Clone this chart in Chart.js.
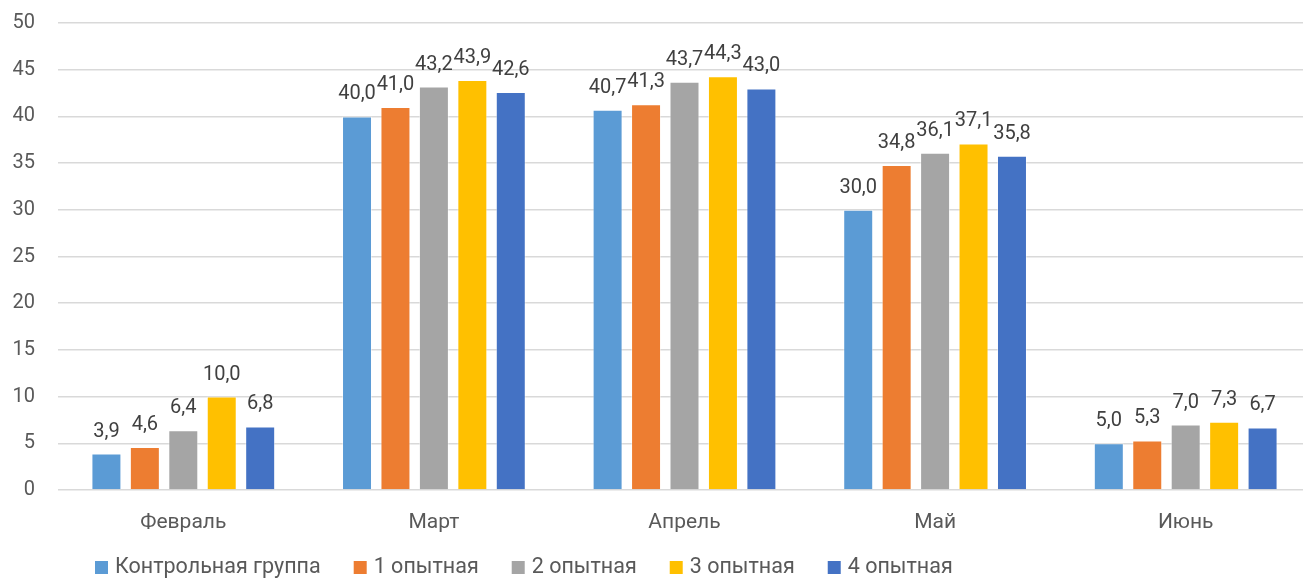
<!DOCTYPE html>
<html lang="ru">
<head>
<meta charset="utf-8">
<title>Показатели по месяцам</title>
<script src="https://cdn.jsdelivr.net/npm/chart.js@4.4.1/dist/chart.umd.min.js"></script>
<style>
  html, body { margin: 0; padding: 0; background: #ffffff; overflow: hidden; }
  #wrap { position: relative; width: 1311px; height: 579px; }
</style>
</head>
<body>
<div id="wrap"><canvas id="chart"></canvas></div>
<script>
// Months on the category axis
const months = ['Февраль', 'Март', 'Апрель', 'Май', 'Июнь'];

// Group names and their values per month
const seriesNames = ['Контрольная группа', '1 опытная', '2 опытная', '3 опытная', '4 опытная'];
const control = [3.9, 40.0, 40.7, 30.0, 5.0];
const group1 = [4.6, 41.0, 41.3, 34.8, 5.3];
const group2 = [6.4, 43.2, 43.7, 36.1, 7.0];
const group3 = [10.0, 43.9, 44.3, 37.1, 7.3];
const group4 = [6.8, 42.6, 43.0, 35.8, 6.7];

// Value axis ticks
const yTicks = [0, 5, 10, 15, 20, 25, 30, 35, 40, 45, 50];

const seriesValues = [control, group1, group2, group3, group4];
const seriesColors = ['#5B9BD5', '#ED7D31', '#A5A5A5', '#FFC000', '#4472C4'];

const FONT = 'Roboto, "Open Sans", "DejaVu Sans", sans-serif';
const TEXT = '#595959';

const fmt = v => v.toFixed(1).replace('.', ',');

// Value labels above each bar
const barLabels = {
  id: 'barLabels',
  afterDatasetsDraw(chart) {
    const ctx = chart.ctx;
    ctx.save();
    ctx.font = '20px ' + FONT;
    ctx.fillStyle = '#404040';
    ctx.textAlign = 'center';
    ctx.textBaseline = 'alphabetic';
    chart.data.datasets.forEach((ds, di) => {
      chart.getDatasetMeta(di).data.forEach((bar, i) => {
        ctx.fillText(fmt(ds.data[i]), bar.x, bar.y - 17);
      });
    });
    ctx.restore();
  }
};

// Legend row along the bottom edge
const bottomLegend = {
  id: 'bottomLegend',
  afterDraw(chart) {
    const ctx = chart.ctx;
    ctx.save();
    ctx.font = '21.5px ' + FONT;
    ctx.textBaseline = 'middle';
    ctx.textAlign = 'left';
    let x = 95;
    const cy = 568;
    chart.data.datasets.forEach(ds => {
      ctx.fillStyle = ds.backgroundColor;
      ctx.fillRect(x, cy - 7, 13, 13);
      ctx.fillStyle = TEXT;
      ctx.fillText(ds.label, x + 20, cy);
      x += 20 + ctx.measureText(ds.label).width + 33;
    });
    ctx.restore();
  }
};

new Chart(document.getElementById('chart'), {
  type: 'bar',
  data: {
    labels: months,
    datasets: seriesNames.map((name, i) => ({
      label: name,
      data: seriesValues[i],
      backgroundColor: seriesColors[i],
      borderColor: 'rgba(255,255,255,0.45)',
      borderWidth: 1,
      categoryPercentage: 0.767,
      barPercentage: 0.78
    }))
  },
  options: {
    responsive: true,
    maintainAspectRatio: false,
    animation: false,
    layout: { padding: { top: 23, right: 0, bottom: 22, left: 0 } },
    plugins: {
      legend: { display: false },
      tooltip: { enabled: false }
    },
    scales: {
      x: {
        grid: { display: false, drawTicks: false },
        border: { display: false },
        ticks: { color: TEXT, font: { family: FONT, size: 21 }, padding: 20 },
        afterFit(scale) { scale.height = 67; }
      },
      y: {
        min: 0,
        max: 50,
        afterBuildTicks(scale) { scale.ticks = yTicks.map(v => ({ value: v })); },
        grid: { color: '#D9D9D9', lineWidth: 1.5, drawTicks: false },
        border: { display: false },
        ticks: { color: TEXT, font: { family: FONT, size: 20 }, padding: 23 },
        afterFit(scale) {
          scale.width = 58;
          scale.paddingTop = 0;
          scale.paddingBottom = 0;
        }
      }
    }
  },
  plugins: [barLabels, bottomLegend]
});
</script>
</body>
</html>
